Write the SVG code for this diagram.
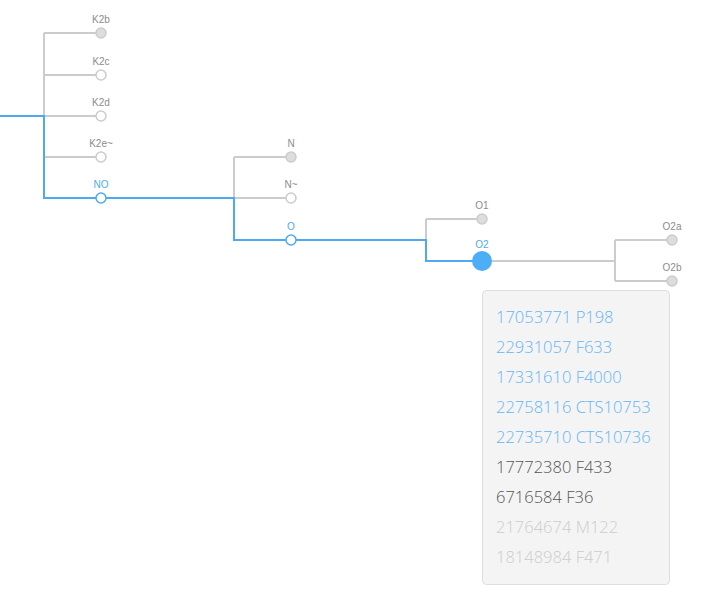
<svg xmlns="http://www.w3.org/2000/svg" width="712" height="596" viewBox="0 0 712 596">
<style>
.g{fill:none;stroke:#cccccc;stroke-width:2}
.b{fill:none;stroke:#4daaf2;stroke-width:2}
.nf{fill:#dddddd;stroke:#cccccc;stroke-width:1.5}
.nw{fill:#ffffff;stroke:#cccccc;stroke-width:1.5}
.nb{fill:#ffffff;stroke:#4daaf2;stroke-width:1.5}
.lab{font-family:"Liberation Sans",Arial,sans-serif;font-size:10px;fill:#8c8c8c;text-anchor:middle}
.lb{fill:#4daaf2}
.tt{font-family:"Open Sans","Noto Sans",sans-serif;font-size:16.5px;font-weight:300}
.tb{fill:#64b5f6}
.td{fill:#555555}
.tl{fill:#cccccc}
</style>
<rect width="712" height="596" fill="#ffffff"/>
<g id="connectors">
<path class="g" d="M44,33H101M44,75H101M44,116H101M44,157H101M44,33V116"/>
<path class="g" d="M234,157H291M234,198H291M234,157V198"/>
<path class="g" d="M426,219H482M426,219V240"/>
<path class="g" d="M482,261H615M615,240H672M615,281H672M615,240V281"/>
<path class="b" d="M0,116H44V198H234V240H426V261H482"/>
</g>
<g id="K2b"><circle class="nf" cx="101" cy="33" r="5"/><text class="lab" x="101" y="23">K2b</text></g>
<g id="K2c"><circle class="nw" cx="101" cy="75" r="5"/><text class="lab" x="101" y="65">K2c</text></g>
<g id="K2d"><circle class="nw" cx="101" cy="116" r="5"/><text class="lab" x="101" y="106">K2d</text></g>
<g id="K2e"><circle class="nw" cx="101" cy="157" r="5"/><text class="lab" x="101" y="147">K2e~</text></g>
<g id="NO"><circle class="nb" cx="101" cy="198" r="5"/><text class="lab lb" x="101" y="188">NO</text></g>
<g id="N"><circle class="nf" cx="291" cy="157" r="5"/><text class="lab" x="291" y="147">N</text></g>
<g id="Ntilde"><circle class="nw" cx="291" cy="198" r="5"/><text class="lab" x="291" y="188">N~</text></g>
<g id="O"><circle class="nb" cx="291" cy="240" r="5"/><text class="lab lb" x="291" y="230">O</text></g>
<g id="O1"><circle class="nf" cx="482" cy="219" r="5"/><text class="lab" x="482" y="209">O1</text></g>
<g id="O2"><circle cx="482" cy="261" r="10" fill="#4dadf7"/><text class="lab lb" x="482" y="248">O2</text></g>
<g id="O2a"><circle class="nf" cx="672" cy="240" r="5"/><text class="lab" x="672" y="230">O2a</text></g>
<g id="O2b"><circle class="nf" cx="672" cy="281" r="5"/><text class="lab" x="672" y="271">O2b</text></g>
<g id="tooltip">
<rect x="482.5" y="290.5" width="187" height="294" rx="4" fill="#f4f4f4" stroke="#dddddd"/>
<text class="tt tb" x="496" y="323">17053771 P198</text>
<text class="tt tb" x="496" y="353">22931057 F633</text>
<text class="tt tb" x="496" y="383">17331610 F4000</text>
<text class="tt tb" x="496" y="413">22758116 CTS10753</text>
<text class="tt tb" x="496" y="443">22735710 CTS10736</text>
<text class="tt td" x="496" y="473">17772380 F433</text>
<text class="tt td" x="496" y="503">6716584 F36</text>
<text class="tt tl" x="496" y="533">21764674 M122</text>
<text class="tt tl" x="496" y="563">18148984 F471</text>
</g>
</svg>
